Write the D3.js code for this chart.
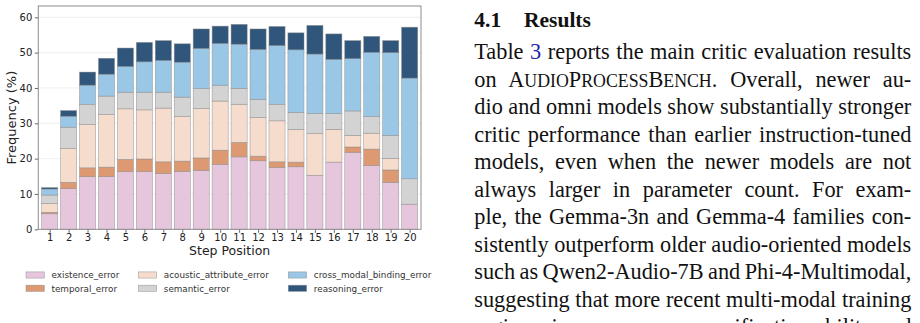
<!DOCTYPE html>
<html>
<head>
<meta charset="utf-8">
<script src="https://cdn.jsdelivr.net/npm/d3@7"></script>
<style>
  body { margin: 0; background: #fff; }
  svg { display: block; }
</style>
</head>
<body>
<script>
// data (percent per step position)
var steps = [1, 2, 3, 4, 5, 6, 7, 8, 9, 10, 11, 12, 13, 14, 15, 16, 17, 18, 19, 20];
var keys = ["existence_error", "temporal_error", "acoustic_attribute_error",
            "semantic_error", "cross_modal_binding_error", "reasoning_error"];
var existence = [4.4, 11.5, 14.9, 14.9, 16.3, 16.3, 15.8, 16.4, 16.7, 18.4, 20.5, 19.4, 17.5, 17.7, 15.3, 19.0, 21.8, 18.1, 13.3, 7.1];
var temporal  = [0.4, 1.8, 2.5, 2.7, 3.5, 3.6, 3.3, 2.9, 3.5, 4.0, 4.1, 1.3, 1.6, 1.3, 0, 0, 1.5, 4.6, 3.5, 0];
var acoustic  = [2.5, 9.6, 12.3, 14.9, 14.3, 13.9, 15.2, 12.6, 14.0, 13.9, 10.8, 11.0, 11.6, 9.3, 11.8, 9.3, 3.3, 4.5, 3.3, 0];
var semantic  = [2.4, 6.0, 5.7, 5.2, 4.7, 5.0, 4.5, 5.5, 5.6, 4.5, 4.5, 5.1, 4.7, 4.8, 5.7, 4.5, 6.9, 4.7, 6.5, 7.2];
var crossModal = [1.7, 3.1, 5.4, 6.2, 7.3, 8.6, 9.0, 9.9, 11.4, 11.8, 12.5, 14.1, 16.6, 17.7, 16.8, 15.3, 14.8, 18.2, 23.4, 28.5];
var reasoning = [0.4, 1.6, 3.7, 4.5, 5.2, 5.5, 5.6, 5.2, 5.5, 4.9, 5.6, 5.8, 5.4, 4.8, 8.1, 7.2, 5.1, 4.5, 3.4, 14.4];
var yTicks = [0, 10, 20, 30, 40, 50, 60];

var colors = ["#e6c6dd", "#dd9a72", "#f6dccd", "#d3d3d3", "#9bc7e6", "#30577b"];

var table = steps.map(function(s, i) {
  return {
    step: s,
    existence_error: existence[i],
    temporal_error: temporal[i],
    acoustic_attribute_error: acoustic[i],
    semantic_error: semantic[i],
    cross_modal_binding_error: crossModal[i],
    reasoning_error: reasoning[i]
  };
});

var svg = d3.select("body").append("svg")
    .attr("width", 920)
    .attr("height", 323);

var plot = {left: 38.3, right: 421, top: 6, bottom: 229.3};

var x = d3.scaleLinear().domain([0.4, 20.6]).range([plot.left, plot.right]);
var y = d3.scaleLinear().domain([0, 63.2]).range([plot.bottom, plot.top]);
var barW = x(1.85) - x(1);

// grid
svg.append("g")
  .selectAll("line")
    .data(yTicks.slice(1))
  .enter().append("line")
    .attr("x1", plot.left).attr("x2", plot.right)
    .attr("y1", function(d) { return y(d); })
    .attr("y2", function(d) { return y(d); })
    .attr("stroke", "#ebebeb")
    .attr("stroke-width", 0.8);

var stacked = d3.stack().keys(keys)(table);

svg.append("g")
  .selectAll("g")
    .data(stacked)
  .enter().append("g")
    .attr("fill", function(d, i) { return colors[i]; })
  .selectAll("rect")
    .data(function(d) { return d.filter(function(p) { return p[1] - p[0] > 0; }); })
  .enter().append("rect")
    .attr("x", function(d) { return x(d.data.step) - barW / 2; })
    .attr("width", barW)
    .attr("y", function(d) { return y(d[1]); })
    .attr("height", function(d) { return y(d[0]) - y(d[1]); })
    .attr("stroke", "#8a8a8a")
    .attr("stroke-opacity", 0.75)
    .attr("stroke-width", 0.6);

// axes
var yAxis = svg.append("g")
    .attr("transform", "translate(" + plot.left + ",0)")
    .call(d3.axisLeft(y).tickValues(yTicks).tickSize(3.5).tickPadding(2.5));
var xAxis = svg.append("g")
    .attr("transform", "translate(0," + plot.bottom + ")")
    .call(d3.axisBottom(x).tickValues(steps).tickFormat(d3.format("d")).tickSize(3.5).tickPadding(1.5));

[yAxis, xAxis].forEach(function(a) {
  a.select(".domain").remove();
  a.selectAll(".tick line").attr("stroke", "#444").attr("stroke-width", 0.8);
  a.selectAll(".tick text")
    .attr("fill", "#222")
    .style("font-family", "'DejaVu Sans', sans-serif")
    .style("font-size", "10px");
});

// frame
svg.append("rect")
    .attr("x", plot.left).attr("y", plot.top)
    .attr("width", plot.right - plot.left)
    .attr("height", plot.bottom - plot.top)
    .attr("fill", "none")
    .attr("stroke", "#8c8c8c")
    .attr("stroke-width", 1);

svg.append("text")
    .attr("x", (plot.left + plot.right) / 2)
    .attr("y", 255)
    .attr("text-anchor", "middle")
    .attr("fill", "#222")
    .style("font-family", "'DejaVu Sans', sans-serif")
    .style("font-size", "12.5px")
    .text("Step Position");

svg.append("text")
    .attr("transform", "translate(15.5," + (plot.top + plot.bottom) / 2 + ") rotate(-90)")
    .attr("text-anchor", "middle")
    .attr("fill", "#222")
    .style("font-family", "'DejaVu Sans', sans-serif")
    .style("font-size", "13px")
    .text("Frequency (%)");

// legend: 3 columns, 2 rows, column-major
var colX = [26, 138.3, 288.3];
var rowY = [275, 288.3];
var legend = svg.append("g")
  .selectAll("g")
    .data(keys)
  .enter().append("g")
    .attr("transform", function(d, i) {
      return "translate(" + colX[Math.floor(i / 2)] + "," + rowY[i % 2] + ")";
    });
legend.append("rect")
    .attr("x", 0).attr("y", -3.1)
    .attr("width", 18.3).attr("height", 6.2)
    .attr("fill", function(d, i) { return colors[i]; })
    .attr("stroke", "#8a8a8a")
    .attr("stroke-opacity", 0.75)
    .attr("stroke-width", 0.6);
legend.append("text")
    .attr("x", 25.5)
    .attr("y", 3.2)
    .attr("fill", "#333")
    .style("font-family", "'DejaVu Sans', sans-serif")
    .style("font-size", "8.8px")
    .text(function(d) { return d; });

// paper text on the right
var textLeft = 474.3, textWidth = 437;
var serif = "'Liberation Serif', 'Times New Roman', serif";

svg.append("text")
    .attr("x", textLeft).attr("y", 26.5)
    .attr("fill", "#111")
    .style("font-family", serif)
    .style("font-weight", "bold")
    .style("font-size", "21.5px")
    .text("4.1");
svg.append("text")
    .attr("x", 524).attr("y", 26.5)
    .attr("fill", "#111")
    .style("font-family", serif)
    .style("font-weight", "bold")
    .style("font-size", "21.5px")
    .text("Results");

// [..] = small caps, {..} = link colour
var lines = [
  "Table {3} reports the main critic evaluation results",
  "on [AudioProcessBench]. Overall, newer au-",
  "dio and omni models show substantially stronger",
  "critic performance than earlier instruction-tuned",
  "models, even when the newer models are not",
  "always larger in parameter count. For exam-",
  "ple, the Gemma-3n and Gemma-4 families con-",
  "sistently outperform older audio-oriented models",
  "such as Qwen2-Audio-7B and Phi-4-Multimodal,",
  "suggesting that more recent multi-modal training",
  "regimes improve process verification ability and"
];

lines.forEach(function(line, i) {
  var t = svg.append("text")
      .attr("x", textLeft)
      .attr("y", 59 + i * 27.5)
      .attr("fill", "#111")
      .style("font-family", serif)
      .style("font-size", "22.3px");
  var parts = line.split(/(\{[^}]*\}|\[[^\]]*\])/);
  parts.forEach(function(p) {
    if (!p) return;
    if (p[0] === "{") {
      t.append("tspan").attr("fill", "#2424b0").text(p.slice(1, -1));
    } else if (p[0] === "[") {
      p.slice(1, -1).split(/(?=[A-Z])/).forEach(function(w) {
        t.append("tspan").text(w[0]);
        t.append("tspan").style("font-size", "17.8px").text(w.slice(1).toUpperCase());
      });
    } else {
      t.append("tspan").text(p);
    }
  });
  var plain = line.replace(/[\[\]{}]/g, "");
  var spaces = plain.split(" ").length - 1;
  var len = t.node().getComputedTextLength();
  if (spaces > 0) t.attr("word-spacing", (textWidth - len) / spaces);
});
</script>
</body>
</html>
